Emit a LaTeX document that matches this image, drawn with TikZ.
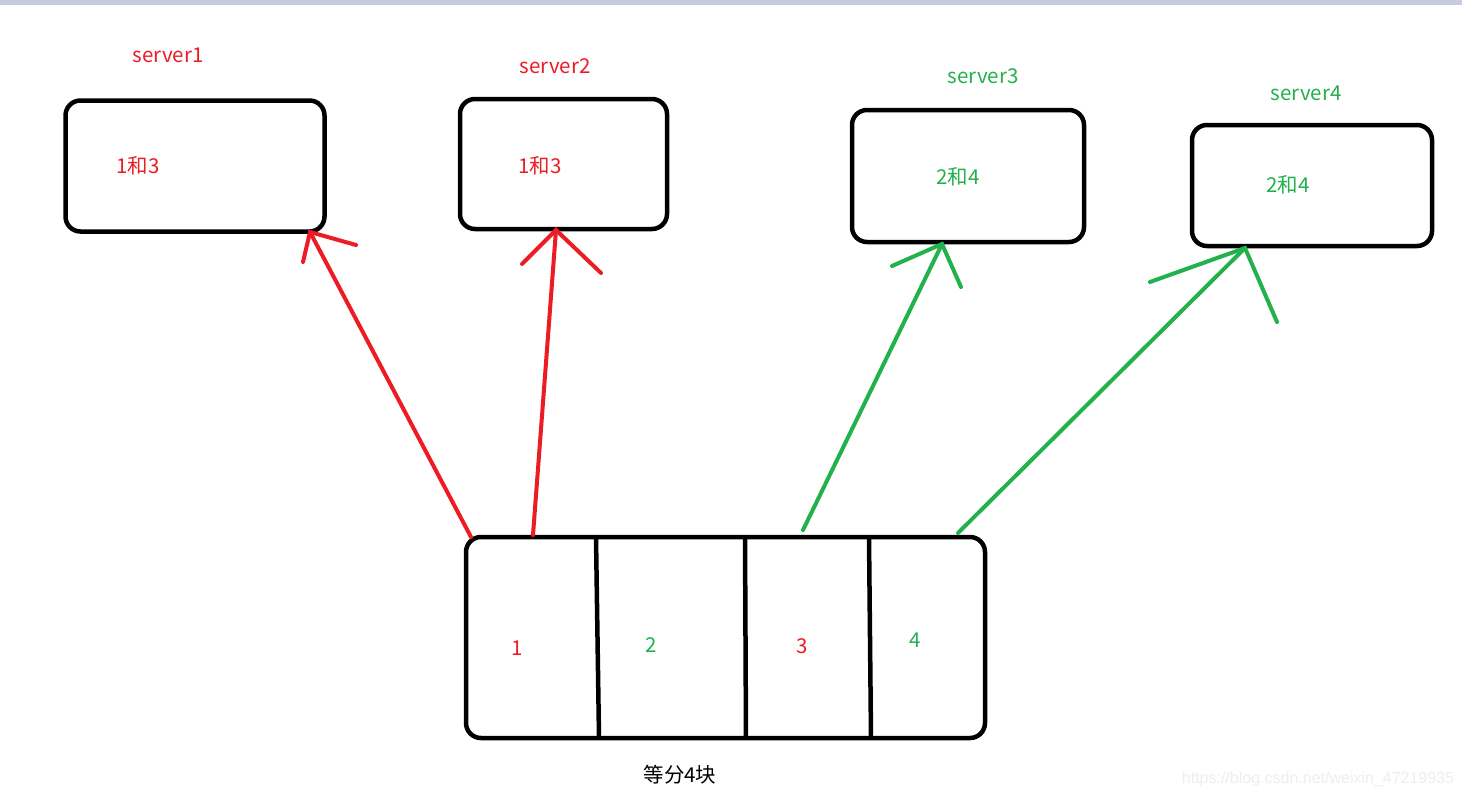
\documentclass[tikz,border=0pt]{standalone}
\usepackage{fontspec}
\setmainfont{Noto Sans CJK SC}
\newfontfamily\wmfont{Liberation Sans}
\definecolor{pred}{HTML}{ED1C24}
\definecolor{pgreen}{HTML}{22B14C}
\definecolor{topbar}{HTML}{C5CCDC}
\definecolor{wmgray}{HTML}{EEEEEE}
\begin{document}
\begin{tikzpicture}[x=1pt,y=-1pt,
  box/.style={draw=black,line width=4.5pt,rounded corners=15pt,anchor=north west,inner sep=0pt,outer sep=0pt},
  divider/.style={draw=black,line width=4.5pt},
  lbl/.style={font=\fontsize{20.5}{24}\selectfont,inner sep=0pt},
  redarrow/.style={draw=pred,line width=4pt,line cap=round},
  greenarrow/.style={draw=pgreen,line width=4pt,line cap=round}]
\useasboundingbox (0,0) rectangle (1462,798);
\fill[white] (0,0) rectangle (1462,798);
\fill[topbar] (0,0) rectangle (1462,5);
% server boxes
\node[box,minimum width=259pt,minimum height=131pt] (s1) at (65.5,100.5) {};
\node[box,minimum width=207pt,minimum height=130pt] (s2) at (460,99) {};
\node[box,minimum width=232pt,minimum height=132pt] (s3) at (852,110) {};
\node[box,minimum width=240pt,minimum height=121pt] (s4) at (1192,125) {};
% bottom box
\node[box,minimum width=519pt,minimum height=201pt] (b) at (466,537) {};
\coordinate (d1t) at (596,537); \coordinate (d1b) at (599,738);
\coordinate (d2t) at (745,537); \coordinate (d2b) at (746,738);
\coordinate (d3t) at (869,537); \coordinate (d3b) at (871,738);
\draw[divider] (d1t) -- (d1b);
\draw[divider] (d2t) -- (d2b);
\draw[divider] (d3t) -- (d3b);
% labels
\node[lbl,text=pred] (l1) at (168,55) {server1};
\node[lbl,text=pred] (l2) at (555,66) {server2};
\node[lbl,text=pgreen] (l3) at (983,76) {server3};
\node[lbl,text=pgreen] (l4) at (1306,93) {server4};
\node[lbl,text=pred] (t1) at (138,166) {1和3};
\node[lbl,text=pred] (t2) at (540,166) {1和3};
\node[lbl,text=pgreen] (t3) at (958,177) {2和4};
\node[lbl,text=pgreen] (t4) at (1288,185) {2和4};
\node[lbl,text=pred] (n1) at (517,648) {1};
\node[lbl,text=pgreen] (n2) at (651,645) {2};
\node[lbl,text=pred] (n3) at (802,646) {3};
\node[lbl,text=pgreen] (n4) at (915,640) {4};
\node[lbl,text=black] (cap) at (680,775) {等分4块};
\node[font=\wmfont\fontsize{16}{18}\selectfont,text=wmgray,inner sep=0pt] (wm) at (1318,779) {https://blog.csdn.net/weixin\_47219935};
% arrows
\coordinate (a1s) at (471,537); \coordinate (a1e) at (310,232);
\coordinate (a1h1) at (303,262); \coordinate (a1h2) at (356,245);
\coordinate (a2s) at (533,535); \coordinate (a2e) at (556,230);
\coordinate (a2h1) at (522,264); \coordinate (a2h2) at (601,273);
\coordinate (a3s) at (803,530); \coordinate (a3e) at (942,244);
\coordinate (a3h1) at (892,266); \coordinate (a3h2) at (961,287);
\coordinate (a4s) at (958,533); \coordinate (a4e) at (1245,248);
\coordinate (a4h1) at (1150,282); \coordinate (a4h2) at (1277,322);
\draw[redarrow] (a1s) -- (a1e); \draw[redarrow] (a1h1) -- (a1e) -- (a1h2);
\draw[redarrow] (a2s) -- (a2e); \draw[redarrow] (a2h1) -- (a2e) -- (a2h2);
\draw[greenarrow] (a3s) -- (a3e); \draw[greenarrow] (a3h1) -- (a3e) -- (a3h2);
\draw[greenarrow] (a4s) -- (a4e); \draw[greenarrow] (a4h1) -- (a4e) -- (a4h2);
\end{tikzpicture}
\end{document}
